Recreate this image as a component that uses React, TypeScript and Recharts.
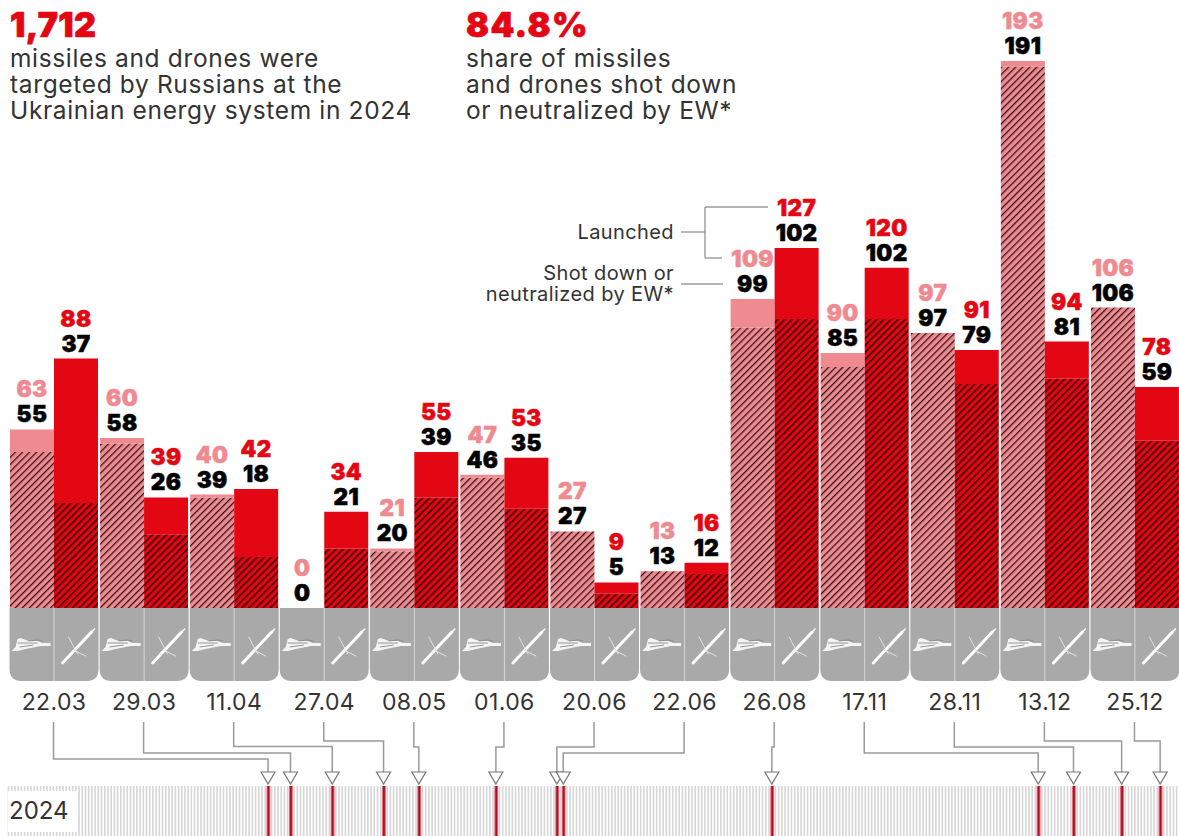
import React from "react";
import { BarChart, Bar, XAxis, YAxis, LabelList } from "recharts";

const dates = ["22.03","29.03","11.04","27.04","08.05","01.06","20.06","22.06","26.08","17.11","28.11","13.12","25.12"];
const dronesLaunched = [63,60,40,0,21,47,27,13,109,90,97,193,106];
const dronesShot = [55,58,39,0,20,46,27,13,99,85,97,191,106];
const missilesLaunched = [88,39,42,34,55,53,9,16,127,120,91,94,78];
const missilesShot = [37,26,18,21,39,35,5,12,102,102,79,81,59];
const monthLengths2024 = [31,29,31,30,31,30,31,31,30,31,30,31];

const dayOfYear = (d: string) => {
  const [dd, mm] = d.split(".").map(Number);
  return monthLengths2024.slice(0, mm - 1).reduce((a, b) => a + b, 0) + dd;
};
const strikeDays = dates.map(dayOfYear);

// labelAnchor: an invisible sliver on top of each stack, so that every column
// (also the ones with nothing left to stack, or with zero launches) keeps its label.
const labelAnchor = 0.001;
const rows = dates.map((date, i) => ({
  date,
  droneShot: dronesShot[i],
  droneRest: dronesLaunched[i] - dronesShot[i],
  droneLaunched: dronesLaunched[i],
  missileShot: missilesShot[i],
  missileRest: missilesLaunched[i] - missilesShot[i],
  missileLaunched: missilesLaunched[i],
  labelAnchor,
}));
const calendar = monthLengths2024.flatMap((n, m) =>
  Array.from({ length: n }, (_, k) => ({ label: `${k + 1}.${m + 1}`, mark: 1 }))
);

const RED = "#e30613";
const PINK = "#ef8a90";
const TEXT = "#333333";
const LINE = "#9a9a9a";
const SANS = "Inter, 'Open Sans', sans-serif";
const BASE_Y = 608;
const STRIP_LEFT = 6.5;
const STRIP_WIDTH = 1174.5;
const DAY_W = STRIP_WIDTH / 366;
const elbowY = [759,753,746.5,741,747,747,747,753,747,753,747,741,741];

const TwoLabels = (props: any) => {
  const { x, y, width, index, launched, shot, color } = props;
  const cx = x + width / 2;
  return (
    <g fontFamily={SANS} fontWeight={900} fontSize={22.5} textAnchor="middle" letterSpacing={0.4} strokeWidth={0.5}>
      <text x={cx} y={y - 32} fill={color} stroke={color}>{launched[index]}</text>
      <text x={cx} y={y - 7} fill="#000" stroke="#000">{shot[index]}</text>
    </g>
  );
};

const DroneIcon = ({ cx, cy }: any) => (
  <g transform={`translate(${cx},${cy})`}>
    <path d="M-20,7 L-16,3 L-14,-5 L-11,-6 L-3,-3 L6,-3 L11,-1 L19,-1 L19,2 L9,2 L-6,5 L-14,7 Z" fill="#f4f4f4" />
    <path d="M-14,-1 L-3,-1 L6,-1 M-12,3 L2,1 M-3,-3 L6,-4 L11,-3" stroke="#8a8a8a" strokeWidth={0.9} fill="none" />
  </g>
);

const MissileIcon = ({ cx, cy }: any) => (
  <g transform={`translate(${cx},${cy})`} strokeLinecap="round" fill="none">
    <path d="M-14,18 L15,-13" stroke="#fff" strokeWidth={3} />
    <path d="M15,-13 L18,-16" stroke="#fff" strokeWidth={1.4} />
    <path d="M-8,-8 L1,9" stroke="#e8e8e8" strokeWidth={0.9} />
    <path d="M-3,5 L9,11" stroke="#e8e8e8" strokeWidth={0.9} />
  </g>
);

const DateTick = (props: any) => {
  const { x, index, payload } = props;
  const left = x - 44.5;
  const right = x + 44.5;
  const bottom = 681;
  const r = 12;
  const target = STRIP_LEFT + (strikeDays[index] - 0.5) * DAY_W;
  const sx = x - 0.5;
  const ly = elbowY[index];
  return (
    <g>
      <path
        d={`M${left},${BASE_Y} H${right} V${bottom - r} Q${right},${bottom} ${right - r},${bottom} H${left + r} Q${left},${bottom} ${left},${bottom - r} Z`}
        fill="#a9a9a9"
      />
      <line x1={x} x2={x} y1={BASE_Y} y2={bottom} stroke="#d6d6d6" strokeWidth={1} />
      <DroneIcon cx={x - 22.5} cy={644} />
      <MissileIcon cx={x + 22.5} cy={645} />
      <text x={x} y={710} textAnchor="middle" fontFamily={SANS} fontSize={23} letterSpacing={0.4} fill={TEXT}>{payload.value}</text>
      <path d={`M${sx},722 V${ly} H${target} V772`} fill="none" stroke={LINE} strokeWidth={1.5} />
      <path d={`M${target - 7},772 H${target + 7} L${target},784 Z`} fill="#fff" stroke="#777" strokeWidth={1.2} />
    </g>
  );
};

const DayBar = (props: any) => {
  const { x, y, width, height, index } = props;
  const isStrike = strikeDays.includes(index + 1);
  const cx = x + width / 2;
  if (isStrike) {
    return (
      <g>
        <rect x={cx - 2} y={y} width={4} height={height} fill="#e8707d" />
        <rect x={cx - 0.9} y={y} width={1.8} height={height} fill="#a01228" />
      </g>
    );
  }
  return <rect x={cx - 0.8} y={y} width={1.6} height={height} fill="#d6d6d6" />;
};

const Line = (p: any) => <line stroke={LINE} strokeWidth={1.4} {...p} />;

export default function App() {
  return (
    <div style={{ position: "absolute", left: 0, top: 0, width: 1179, height: 836, overflow: "hidden", background: "#fff" }}>
      <div style={{ position: "absolute", left: STRIP_LEFT, top: 786 }}>
        <BarChart width={STRIP_WIDTH} height={50} data={calendar} margin={{ top: 0, right: 0, bottom: 0, left: 0 }} barCategoryGap={0}>
          <XAxis dataKey="label" hide />
          <YAxis hide domain={[0, 1]} />
          <Bar dataKey="mark" isAnimationActive={false} shape={<DayBar />} />
        </BarChart>
      </div>
      <div style={{ position: "absolute", left: 8, top: 791, width: 69, height: 41, background: "#fff" }} />

      <div style={{ position: "absolute", left: 0, top: 0 }}>
        <BarChart width={1181} height={836} data={rows} margin={{ top: 0, right: 1, bottom: 0, left: 9 }} barCategoryGap={1} barGap={0}>
          <defs>
            <pattern id="hatchPink" patternUnits="userSpaceOnUse" width={5} height={5} patternTransform="rotate(45)">
              <rect width={5} height={5} fill={PINK} />
              <rect width={1.25} height={5} fill="#2a1315" />
            </pattern>
            <pattern id="hatchRed" patternUnits="userSpaceOnUse" width={5} height={5} patternTransform="rotate(45)">
              <rect width={5} height={5} fill={RED} />
              <rect width={1.7} height={5} fill="#430006" />
            </pattern>
          </defs>
          <XAxis dataKey="date" interval={0} height={228} axisLine={false} tickLine={false} tick={(p: any) => <DateTick {...p} />} />
          <YAxis hide domain={[0, 214.5]} />
          <Bar dataKey="droneShot" stackId="d" fill="url(#hatchPink)" isAnimationActive={false} />
          <Bar dataKey="droneRest" stackId="d" fill={PINK} isAnimationActive={false} />
          <Bar dataKey="labelAnchor" stackId="d" fill="none" isAnimationActive={false}>
            <LabelList dataKey="droneLaunched" content={<TwoLabels launched={dronesLaunched} shot={dronesShot} color={PINK} />} />
          </Bar>
          <Bar dataKey="missileShot" stackId="m" fill="url(#hatchRed)" isAnimationActive={false} />
          <Bar dataKey="missileRest" stackId="m" fill={RED} isAnimationActive={false} />
          <Bar dataKey="labelAnchor" stackId="m" fill="none" isAnimationActive={false}>
            <LabelList dataKey="missileLaunched" content={<TwoLabels launched={missilesLaunched} shot={missilesShot} color={RED} />} />
          </Bar>
        </BarChart>
      </div>

      <svg width={1179} height={836} style={{ position: "absolute", left: 0, top: 0, pointerEvents: "none" }} fontFamily={SANS}>
        <text x={10} y={37} fontSize={34} fontWeight={900} letterSpacing={0.4} stroke={RED} strokeWidth={0.7} fill={RED}>1,712</text>
        <g fontSize={24.5} letterSpacing={0.65} fill={TEXT}>
          <text x={10} y={67}>missiles and drones were</text>
          <text x={10} y={93}>targeted by Russians at the</text>
          <text x={10} y={119}>Ukrainian energy system in 2024</text>
        </g>
        <text x={466} y={37} fontSize={34} fontWeight={900} letterSpacing={1.4} stroke={RED} strokeWidth={0.7} fill={RED}>84.8%</text>
        <g fontSize={24.5} letterSpacing={0.65} fill={TEXT}>
          <text x={466} y={67}>share of missiles</text>
          <text x={466} y={93}>and drones shot down</text>
          <text x={466} y={119}>or neutralized by EW*</text>
        </g>
        <g fontSize={20} letterSpacing={0.4} fill={TEXT} textAnchor="end">
          <text x={674} y={239}>Launched</text>
          <text x={674} y={280}>Shot down or</text>
          <text x={674} y={301}>neutralized by EW*</text>
        </g>
        <Line x1={681} x2={705} y1={232} y2={232} />
        <Line x1={705} x2={705} y1={207} y2={258} />
        <Line x1={705} x2={768} y1={207} y2={207} />
        <Line x1={705} x2={722} y1={258} y2={258} />
        <Line x1={681} x2={723} y1={284} y2={284} />
        <text x={9} y={819} fontSize={24} fill={TEXT}>2024</text>
      </svg>
    </div>
  );
}
